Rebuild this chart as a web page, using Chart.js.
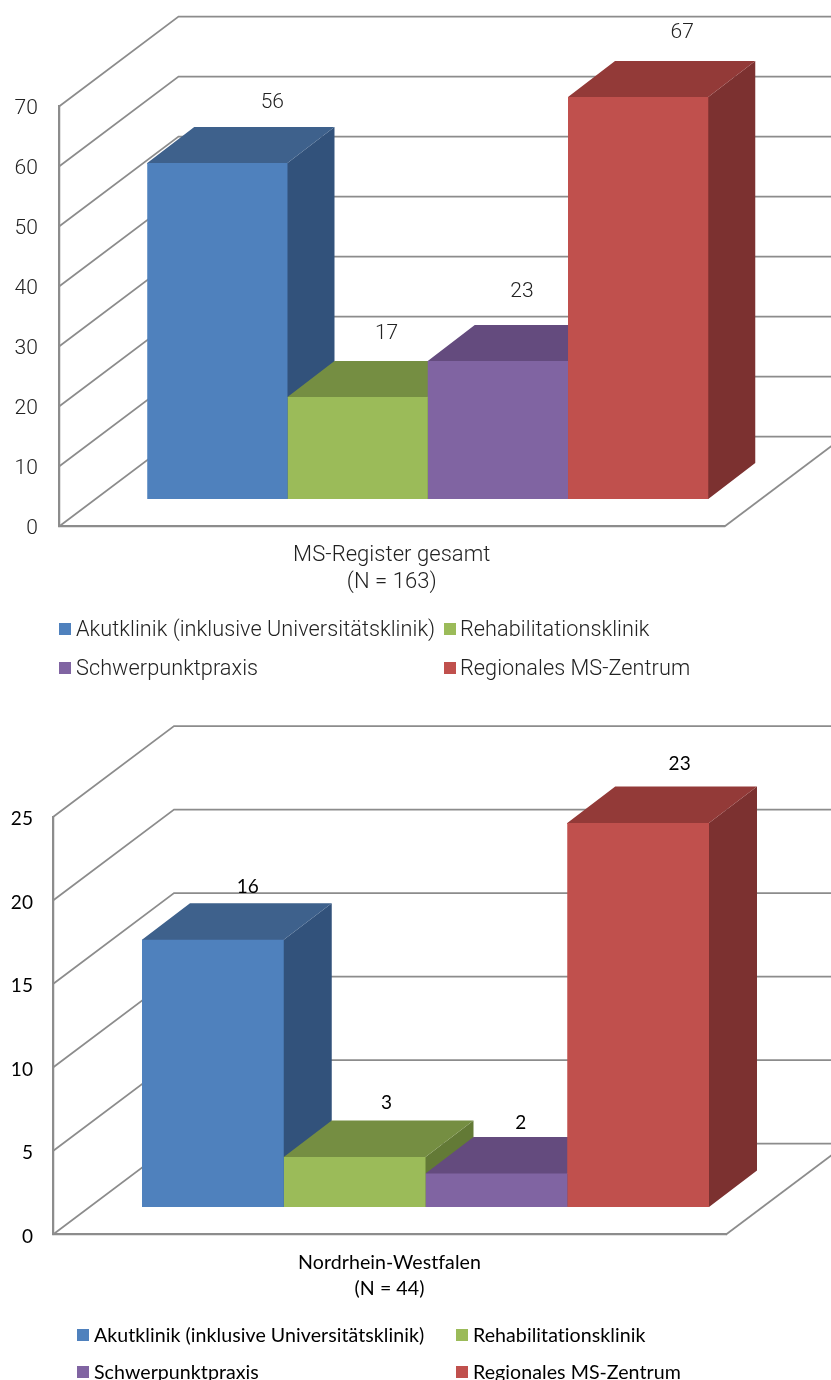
<!DOCTYPE html>
<html lang="de">
<head>
<meta charset="utf-8">
<title>MS-Register</title>
<script src="https://cdn.jsdelivr.net/npm/chart.js@4/dist/chart.umd.min.js"></script>
<style>
  html, body { margin: 0; padding: 0; background: #fff; }
  body { position: relative; width: 831px; height: 1380px; overflow: hidden; }
  .panel { position: absolute; left: 0; width: 831px; }
  #panelA { top: 0; height: 700px; }
  #panelB { top: 700px; height: 680px; }
</style>
</head>
<body>
<div class="panel" id="panelA"><canvas id="register"></canvas></div>
<div class="panel" id="panelB"><canvas id="nrw"></canvas></div>
<script>
// Facility types shown in both charts
const seriesLabels = [
  'Akutklinik (inklusive Universitätsklinik)',
  'Rehabilitationsklinik',
  'Schwerpunktpraxis',
  'Regionales MS-Zentrum'
];
const registerCategory = [['MS-Register gesamt', '(N = 163)']];
const registerValues = [56, 17, 23, 67];
const registerTicks = [0, 10, 20, 30, 40, 50, 60, 70];
const nrwCategory = [['Nordrhein-Westfalen', '(N = 44)']];
const nrwValues = [16, 3, 2, 23];
const nrwTicks = [0, 5, 10, 15, 20, 25];

// Face colours per series: front, top, side
const frontColors = ['#4f81bd', '#9bbb59', '#8064a2', '#c0504d'];
const topColors = ['#3e618c', '#758e42', '#644b7e', '#933a38'];
const sideColors = ['#32527b', '#637a36', '#553f6c', '#7c3130'];
const gridColor = '#8c8c8c';

// Draws the pseudo-3D box: walls behind the bars, bar tops and sides, value labels, legend
const box3d = {
  id: 'box3d',
  beforeDraw(chart, args, o) {
    // A tiny tracking value keeps the canvas from forming ligatures
    chart.ctx.letterSpacing = o.tracking;
  },
  beforeDatasetsDraw(chart, args, o) {
    const { ctx, chartArea: a, scales } = chart;
    ctx.save();
    ctx.strokeStyle = gridColor;
    ctx.lineWidth = 1.75;
    ctx.lineJoin = 'miter';
    scales.y.ticks.forEach(t => {
      const y = scales.y.getPixelForValue(t.value);
      ctx.beginPath();
      ctx.moveTo(a.left, y);
      ctx.lineTo(a.left + o.wall[0], y + o.wall[1]);
      ctx.lineTo(chart.width + 2, y + o.wall[1]);
      ctx.stroke();
    });
    ctx.beginPath();
    ctx.moveTo(a.right, a.bottom);
    ctx.lineTo(a.right + o.wall[0], a.bottom + o.wall[1]);
    ctx.stroke();

    // Tops and sides go first, left to right, so the fronts cover them.
    // Their near edges run one pixel under the front to hide the seam.
    chart.data.datasets.forEach((ds, i) => {
      const bar = chart.getDatasetMeta(i).data[0];
      const l = bar.x - bar.width / 2 + o.plane[0];
      const r = bar.x + bar.width / 2 + o.plane[0];
      const t = bar.y + o.plane[1];
      const b = bar.base + o.plane[1];
      const [dx, dy] = o.depth;
      ctx.fillStyle = sideColors[i];
      ctx.beginPath();
      ctx.moveTo(r - 1, t);
      ctx.lineTo(r, t);
      ctx.lineTo(r + dx, t + dy);
      ctx.lineTo(r + dx, b + dy);
      ctx.lineTo(r, b);
      ctx.lineTo(r - 1, b);
      ctx.closePath();
      ctx.fill();
      ctx.fillStyle = topColors[i];
      ctx.beginPath();
      ctx.moveTo(l, t + 1);
      ctx.lineTo(l, t);
      ctx.lineTo(l + dx, t + dy);
      ctx.lineTo(r + dx, t + dy);
      ctx.lineTo(r, t);
      ctx.lineTo(r, t + 1);
      ctx.closePath();
      ctx.fill();
    });
    ctx.restore();

    // Fronts stand on a plane set back from the axis frame
    ctx.save();
    ctx.translate(o.plane[0], o.plane[1]);
  },
  afterDatasetsDraw(chart, args, o) {
    const { ctx } = chart;
    ctx.restore();

    ctx.save();
    ctx.fillStyle = o.textColor;
    ctx.font = o.labelFont;
    ctx.textAlign = 'center';
    ctx.textBaseline = 'middle';
    chart.data.datasets.forEach((ds, i) => {
      const bar = chart.getDatasetMeta(i).data[0];
      ctx.fillText(String(ds.data[0]),
        bar.x + o.plane[0] + o.labelShift[i][0],
        bar.y + o.plane[1] + o.labelShift[i][1]);
    });

    ctx.font = o.legendFont;
    ctx.textAlign = 'left';
    chart.data.datasets.forEach((ds, i) => {
      const x = o.legendX[i % 2];
      const y = o.legendY[i < 2 ? 0 : 1];
      ctx.fillStyle = ds.backgroundColor;
      ctx.fillRect(x, y, 12, 12);
      ctx.fillStyle = o.textColor;
      ctx.fillText(ds.label, x + o.legendGap[i % 2], y + o.legendDrop);
    });
    ctx.restore();
  }
};

function buildChart(id, categories, values, ticks, cfg) {
  return new Chart(document.getElementById(id), {
    type: 'bar',
    plugins: [box3d],
    data: {
      labels: categories,
      datasets: seriesLabels.map((label, i) => ({
        label,
        data: [values[i]],
        backgroundColor: frontColors[i],
        borderWidth: 0,
        clip: false,
        barPercentage: 1,
        categoryPercentage: cfg.categoryPercentage
      }))
    },
    options: {
      responsive: true,
      maintainAspectRatio: false,
      animation: false,
      events: [],
      layout: { padding: cfg.padding },
      plugins: {
        legend: { display: false },
        tooltip: { enabled: false },
        box3d: cfg.box
      },
      scales: {
        x: {
          grid: { display: false, drawTicks: false },
          border: { color: gridColor, width: 2.25 },
          ticks: { color: cfg.box.textColor, font: cfg.xFont, padding: cfg.xPad, maxRotation: 0, autoSkip: false },
          afterFit(scale) { scale.height = cfg.xHeight; }
        },
        y: {
          min: ticks[0],
          max: ticks[ticks.length - 1],
          afterBuildTicks(scale) { scale.ticks = ticks.map(value => ({ value })); },
          grid: { display: false, drawTicks: false },
          border: { color: gridColor, width: 2.25 },
          ticks: { color: cfg.box.textColor, font: cfg.yFont, padding: cfg.yPad, labelOffset: 2 },
          afterFit(scale) { scale.width = cfg.yWidth; }
        }
      }
    }
  });
}

const helv = 'Roboto, "Liberation Sans", sans-serif';
const cali = 'Lato, sans-serif';

buildChart('register', registerCategory, registerValues, registerTicks, {
  categoryPercentage: 0.843,
  padding: { left: 0, top: 106.5, right: 106.5, bottom: 103.5 },
  xHeight: 70,
  yWidth: 59,
  xPad: 16,
  yPad: 21,
  xFont: { family: helv, size: 22, weight: '300', lineHeight: 1.2 },
  yFont: { family: helv, size: 21, weight: '300' },
  box: {
    tracking: '0.05px',
    wall: [119.5, -90],
    plane: [36, -27.5],
    depth: [47, -36],
    textColor: '#222222',
    labelFont: '300 21px ' + helv,
    legendFont: '300 21.7px ' + helv,
    labelShift: [[55, -60], [29, -63], [24, -69], [44, -64]],
    legendX: [59, 444],
    legendY: [623, 662],
    legendGap: [17, 16],
    legendDrop: 7.5
  }
});

buildChart('nrw', nrwCategory, nrwValues, nrwTicks, {
  categoryPercentage: 0.8425,
  padding: { left: 0, top: 117, right: 105, bottom: 75.5 },
  xHeight: 70,
  yWidth: 53,
  xPad: 15,
  yPad: 20,
  xFont: { family: cali, size: 19.6, lineHeight: 1.32 },
  yFont: { family: cali, size: 19 },
  box: {
    tracking: '0.05px',
    wall: [121, -91],
    plane: [36, -27.5],
    depth: [48, -36.5],
    textColor: '#000000',
    labelFont: '19px ' + cali,
    legendFont: '19.6px ' + cali,
    labelShift: [[35, -53], [32, -54], [24.5, -51], [41.5, -59]],
    legendX: [77, 456],
    legendY: [629, 666],
    legendGap: [17, 17],
    legendDrop: 6.5
  }
});
</script>
</body>
</html>
